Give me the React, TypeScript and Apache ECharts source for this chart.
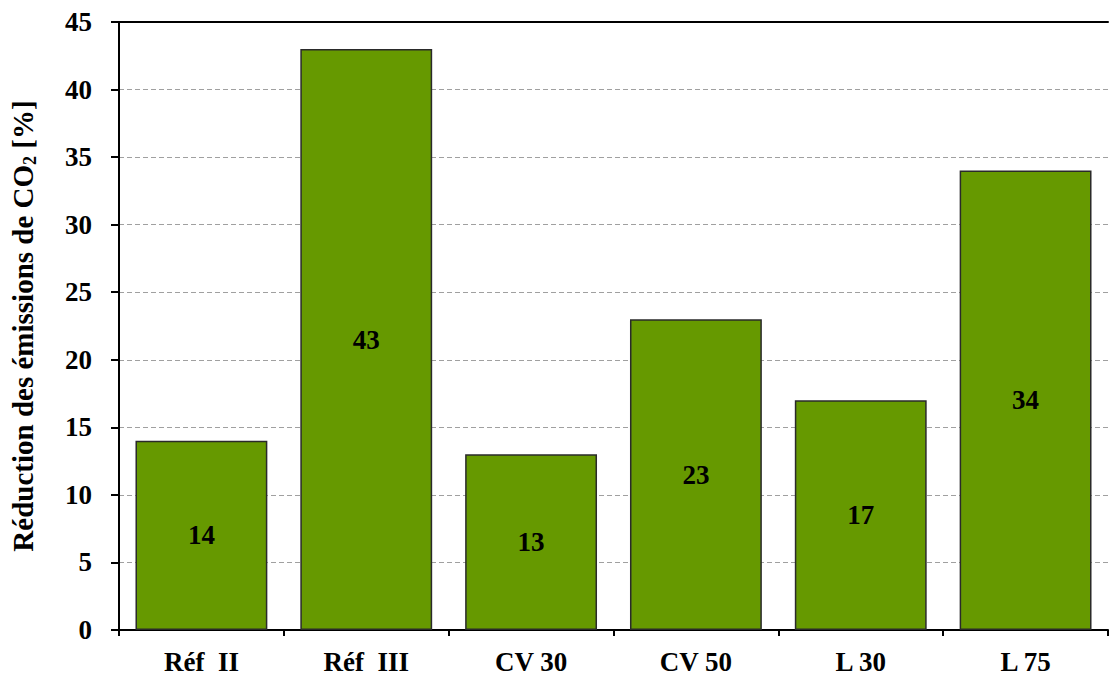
import React, { useEffect, useRef } from "react";
import * as echarts from "echarts";

const categories = ["Réf  II", "Réf  III", "CV 30", "CV 50", "L 30", "L 75"];
const values = [14, 43, 13, 23, 17, 34];
const yMin = 0;
const yMax = 45;
const yInterval = 5;

const FONT = "'Liberation Serif', 'DejaVu Serif', serif";

export default function App() {
  const ref = useRef<HTMLDivElement>(null);
  useEffect(() => {
    if (!ref.current) return;
    const chart = echarts.init(ref.current, null, { renderer: "svg" });
    chart.setOption({
      animation: false,
      backgroundColor: "#ffffff",
      grid: { left: 119, right: 2, top: 22, bottom: 47, containLabel: false },
      xAxis: [
        {
          type: "category",
          data: categories,
          position: "bottom",
          axisLine: { lineStyle: { color: "#000", width: 2 } },
          axisTick: { show: true, length: 6, lineStyle: { color: "#000", width: 2 } },
          axisLabel: {
            fontFamily: FONT,
            fontWeight: "bold",
            fontSize: 27,
            color: "#000",
            margin: 18,
          },
        },
        {
          type: "category",
          data: categories,
          position: "top",
          axisLine: { lineStyle: { color: "#000", width: 2 } },
          axisTick: { show: false },
          axisLabel: { show: false },
        },
      ],
      yAxis: {
        type: "value",
        min: yMin,
        max: yMax,
        interval: yInterval,
        name: "{a|Réduction des émissions de CO}{s|2}{a| [%]}",
        nameLocation: "middle",
        nameGap: 80,
        nameRotate: 90,
        nameTextStyle: {
          rich: {
            a: { fontFamily: FONT, fontWeight: "bold", fontSize: 29, color: "#000" },
            s: { fontFamily: FONT, fontWeight: "bold", fontSize: 18, color: "#000", padding: [14, 0, 0, 0] },
          },
        },
        axisLine: { show: true, lineStyle: { color: "#000", width: 2 } },
        axisTick: { show: true, length: 8, lineStyle: { color: "#000", width: 2 } },
        axisLabel: {
          fontFamily: FONT,
          fontWeight: "bold",
          fontSize: 27,
          color: "#000",
          margin: 27,
        },
        splitLine: {
          show: true,
          lineStyle: { color: "#a0a0a0", type: [5, 3], width: 1 },
        },
      },
      series: [
        {
          type: "bar",
          data: values,
          barCategoryGap: "20%",
          itemStyle: { color: "#669900", borderColor: "#2a2a2a", borderWidth: 1.5 },
          label: {
            show: true,
            position: "inside",
            fontFamily: FONT,
            fontWeight: "bold",
            fontSize: 27,
            color: "#000",
          },
        },
      ],
    });
    return () => chart.dispose();
  }, []);
  return (
    <div
      ref={ref}
      style={{ position: "fixed", left: 0, top: 0, width: 1110, height: 677 }}
    />
  );
}
